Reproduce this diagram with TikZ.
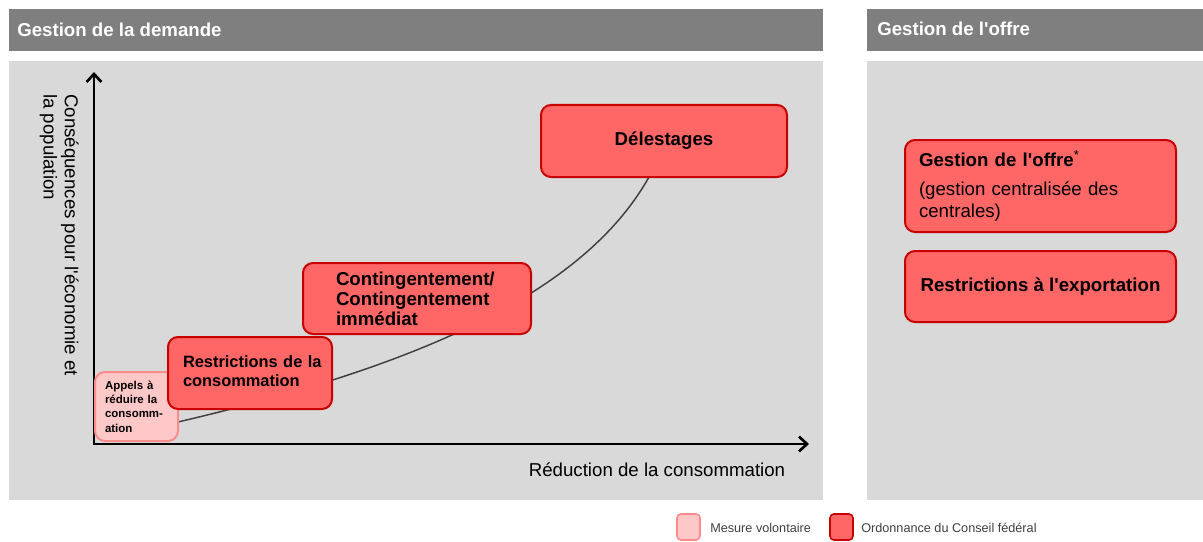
\documentclass[tikz,border=0pt]{standalone}
\usepackage{fontspec}
\setmainfont{Liberation Sans}
\usetikzlibrary{arrows.meta}
\definecolor{hdr}{HTML}{7F7F7F}
\definecolor{panel}{HTML}{D9D9D9}
\definecolor{redfill}{HTML}{FF6666}
\definecolor{redline}{HTML}{C80000}
\definecolor{pinkfill}{HTML}{FFC8C8}
\definecolor{pinkline}{HTML}{FF8C8C}
\definecolor{curvec}{HTML}{404040}
\definecolor{legtext}{HTML}{404040}
\newcommand{\apo}{\textquotesingle}
\begin{document}
\begin{tikzpicture}[x=0.75pt,y=-0.75pt,
  hdrtext/.style={text=white, font=\fontsize{14}{16}\selectfont\bfseries, anchor=west, inner sep=0},
  ordbox/.style={draw=redline, fill=redfill, line width=1.5pt, rounded corners=7.5pt},
  volbox/.style={draw=pinkline, fill=pinkfill, line width=1.5pt, rounded corners=7.5pt},
  bigbold/.style={font=\fontsize{14}{15}\selectfont\bfseries},
  legtxt/.style={anchor=west, inner sep=0, text=legtext, font=\fontsize{9.5}{11}\selectfont},
  axisline/.style={line width=2pt, {Straight Barb[length=6pt,width=11pt]}-{Straight Barb[length=6pt,width=11pt]}},
]
\useasboundingbox[fill=white] (0,0) rectangle (1203,542);
% headers and panels
\fill[hdr] (9,9) rectangle (823,51);
\fill[hdr] (867,9) rectangle (1203,51);
\fill[panel] (9,61) rectangle (823,500);
\fill[panel] (867,61) rectangle (1203,500);
\node[hdrtext] (hdrL) at (17,30) {Gestion de la demande};
\node[hdrtext] (hdrR) at (877,29) {Gestion de l\apo offre};
% axes
\coordinate (origin) at (94,444);
\coordinate (ytip) at (94,72);
\coordinate (xtip) at (809,444);
\draw[axisline] (ytip) -- (origin) -- (xtip);
\node[rotate=-90, anchor=north west, align=left, inner sep=0,
      font=\fontsize{14}{16}\selectfont] (ylab) at (79,94)
      {Conséquences pour l\apo économie et\\la population};
\node[font=\fontsize{14}{16}\selectfont, inner sep=0] (xlab) at (657,470) {Réduction de la consommation};
% curve
\coordinate (cstart) at (178,422);
\coordinate (cend) at (649,177);
\draw[curvec, line width=1.1pt] (cstart) .. controls (400,370) and (580,300) .. (cend);
% boxes
\node[volbox, minimum width=62.25pt, minimum height=51.75pt, inner xsep=7.5pt,
      text width=47.25pt, align=left, font=\fontsize{8.6}{10.7}\selectfont\bfseries]
      (appels) at (136.5,406.5) {Appels à\\réduire la\\consomm-\\ation};
\node[ordbox, minimum width=123pt, minimum height=54pt, inner xsep=11.25pt,
      text width=100.5pt, align=left, font=\fontsize{12.3}{14}\selectfont\bfseries]
      (restr) at (250,373) {\mbox{Restrictions de la}\\consommation\vspace{3pt}};
\node[ordbox, bigbold, minimum width=171pt, minimum height=53.25pt, inner xsep=24.75pt,
      text width=121.5pt, align=left]
      (conting) at (417,298.5) {Contingentement/\\Contingentement\\immédiat};
\node[ordbox, bigbold, minimum width=184.5pt, minimum height=54pt, align=center]
      (delest) at (664,141) {Délestages};
\node[ordbox, minimum width=203.25pt, minimum height=69pt, inner xsep=10.5pt,
      text width=182.25pt, align=left, font=\fontsize{14}{16.5}\selectfont]
      (offre) at (1040.5,186) {\textbf{Gestion de l\apo offre}\textsuperscript{*}\\[5pt](gestion centralisée des\\centrales)};
\node[ordbox, bigbold, minimum width=203.25pt, minimum height=53.25pt, align=center]
      (export) at (1040.5,286.5) {Restrictions à l\apo exportation};
% legend
\node[volbox, rounded corners=3pt, line width=1.2pt, minimum width=17.25pt, minimum height=19.5pt, inner sep=0] (legvol) at (688.5,527) {};
\node[legtxt] (legvoltxt) at (710,528) {Mesure volontaire};
\node[ordbox, rounded corners=3pt, line width=1.2pt, minimum width=17.25pt, minimum height=19.5pt, inner sep=0] (legord) at (841.5,527) {};
\node[legtxt] (legordtxt) at (861,528) {Ordonnance du Conseil fédéral};
\end{tikzpicture}
\end{document}
